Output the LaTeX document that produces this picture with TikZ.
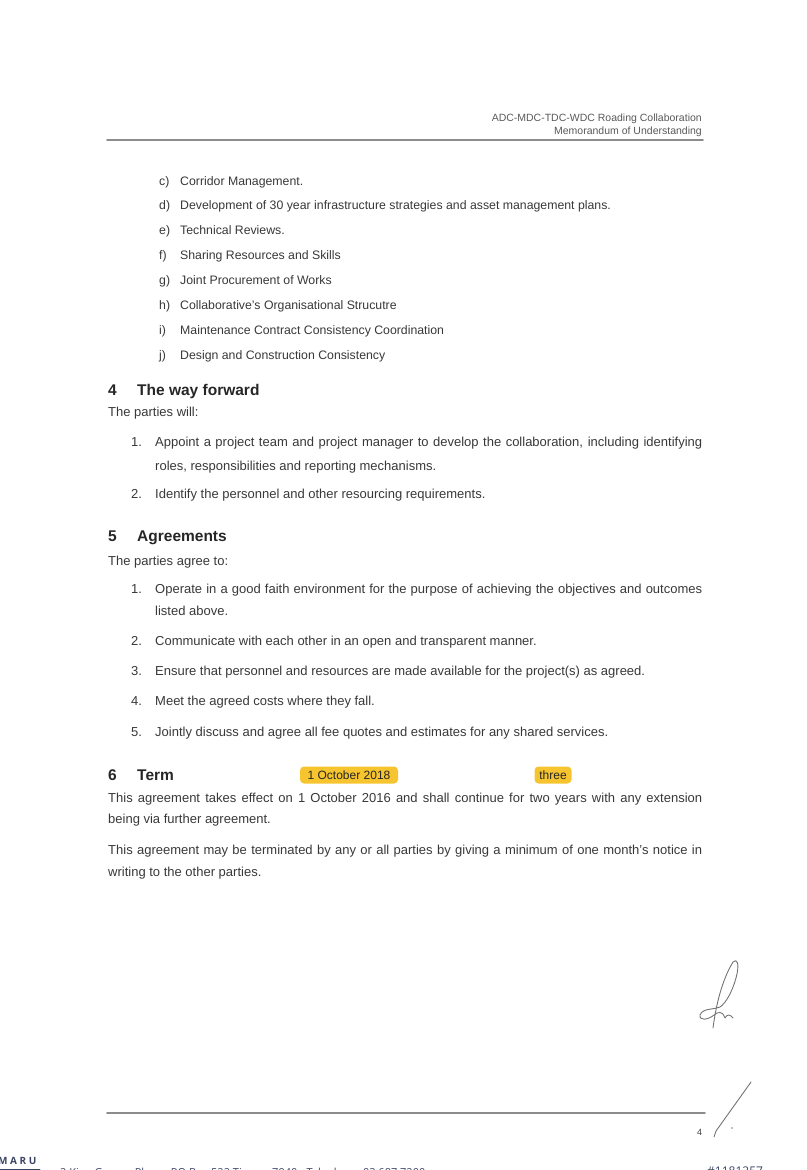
\documentclass[tikz,border=0pt]{standalone}
\usepackage{fontspec}
\setmainfont{Liberation Sans}
\newfontfamily\addrfont{Open Sans}
\definecolor{hl}{HTML}{F6C42F}
\definecolor{navy}{HTML}{3C4466}
\newcommand\fillto[2]{\hbox to #1{#2}}
\begin{document}
\begin{tikzpicture}[x=1pt,y=-1pt,line join=round,line cap=round,
  every node/.style={inner sep=0pt,anchor=base west},
  lst/.style={font=\fontsize{12.3}{14}\selectfont,text=black!78},
  txt/.style={font=\fontsize{13}{15}\selectfont,text=black!78},
  head/.style={font=\fontsize{15.5}{18}\selectfont\bfseries,text=black!85},
  hdr/.style={font=\fontsize{10.5}{12}\selectfont,text=black!65,anchor=base east},
  rule/.style={draw=black!45,line width=1.6pt},
  hilite/.style={fill=hl,rounded corners=4pt,minimum width=#1,minimum height=17pt,anchor=center,font=\fontsize{12}{14}\selectfont,text=black!85},
  pen/.style={draw=black!55,line width=0.9pt},
  foot/.style={text=navy}]
\useasboundingbox (0,0) rectangle (806,1170);
\clip (0,0) rectangle (806,1170);
% header
\node[hdr] (hdra) at (702,121) {ADC-MDC-TDC-WDC Roading Collaboration};
\node[hdr] (hdrb) at (702,134) {Memorandum of Understanding};
\draw[rule] (107,140)--(703,140);
% list c) - j)
\foreach \l/\t [count=\i from 0] in {c/Corridor Management.,
    d/Development of 30 year infrastructure strategies and asset management plans.,
    e/Technical Reviews.,f/Sharing Resources and Skills,g/Joint Procurement of Works,
    h/Collaborative's Organisational Strucutre,i/Maintenance Contract Consistency Coordination,
    j/Design and Construction Consistency}{
  \node[lst] (lbl\l) at (159,185+24.9*\i) {\l)};
  \node[lst] (itm\l) at (180,185+24.9*\i) {\t};
}
% 4 The way forward
\node[head] (num4) at (108,395) {4};
\node[head] (way) at (137,395) {The way forward};
\node[txt] (will) at (108,416) {The parties will:};
\node[txt] (wayn1) at (131,446) {1.};
\node[txt] (way1a) at (155,446) {\fillto{547pt}{Appoint a project team and project manager to develop the collaboration, including identifying}};
\node[txt] (way1b) at (155,470) {roles, responsibilities and reporting mechanisms.};
\node[txt] (wayn2) at (131,498) {2.};
\node[txt] (way2) at (155,498) {Identify the personnel and other resourcing requirements.};
% 5 Agreements
\node[head] (num5) at (108,541) {5};
\node[head] (agr) at (137,541) {Agreements};
\node[txt] (agree) at (108,565) {The parties agree to:};
\node[txt] (agrn1) at (131,593) {1.};
\node[txt] (agr1a) at (155,593) {\fillto{547pt}{Operate in a good faith environment for the purpose of achieving the objectives and outcomes}};
\node[txt] (agr1b) at (155,615) {listed above.};
\foreach \t [count=\i from 2] in {Communicate with each other in an open and transparent manner.,
    Ensure that personnel and resources are made available for the project(s) as agreed.,
    Meet the agreed costs where they fall.,
    Jointly discuss and agree all fee quotes and estimates for any shared services.}{
  \node[txt] (agrn\i) at (131,645+30.4*\i-60.8) {\i.};
  \node[txt] (agr\i) at (155,645+30.4*\i-60.8) {\t};
}
% 6 Term
\node[head] (num6) at (108,780) {6};
\node[head] (term) at (137,780) {Term};
\node[hilite=98pt] (date) at (349,775) {1 October 2018};
\node[hilite=37pt] (three) at (553,775) {three};
\node[txt] (terma) at (108,802) {\fillto{594pt}{This agreement takes effect on 1 October 2016 and shall continue for two years with any extension}};
\node[txt] (termb) at (108,823) {being via further agreement.};
\node[txt] (endsa) at (108,854) {\fillto{594pt}{This agreement may be terminated by any or all parties by giving a minimum of one month's notice in}};
\node[txt] (endsb) at (108,876) {writing to the other parties.};
% initials
\draw[pen] (713,1028) .. controls (716,1005) and (722,980) .. (733,962)
  .. controls (737,958) and (740,963) .. (736,978)
  .. controls (732,992) and (726,1003) .. (720,1007)
  .. controls (712,1010) and (703,1008) .. (700,1015)
  .. controls (699,1021) and (708,1020) .. (714,1015)
  .. controls (718,1012) and (722,1010) .. (725,1018)
  .. controls (727,1014) and (730,1014) .. (733,1018);
% footer
\draw[rule] (107,1113)--(705,1113);
\node[font=\fontsize{9}{10}\selectfont,text=black!75] (page) at (697,1135) {4};
\draw[pen] (751,1082)--(716,1131)--(714,1137);
\fill[black!50] (732,1128) circle (0.8pt);
\node[foot,font=\addrfont\bfseries\fontsize{10}{12}\selectfont] (maru) at (-2,1164) {M A R U};
\draw[draw=navy,line width=0.7pt] (0,1169)--(40,1169);
\node[foot,font=\addrfont\fontsize{11}{13}\selectfont] (addr) at (60,1176) {2 King George Place - PO Box 522 Timaru 7940 - Telephone 03 687 7200};
\node[foot,font=\addrfont\fontsize{12}{14}\selectfont] (docno) at (707,1175) {\#1181257};
\end{tikzpicture}
\end{document}
